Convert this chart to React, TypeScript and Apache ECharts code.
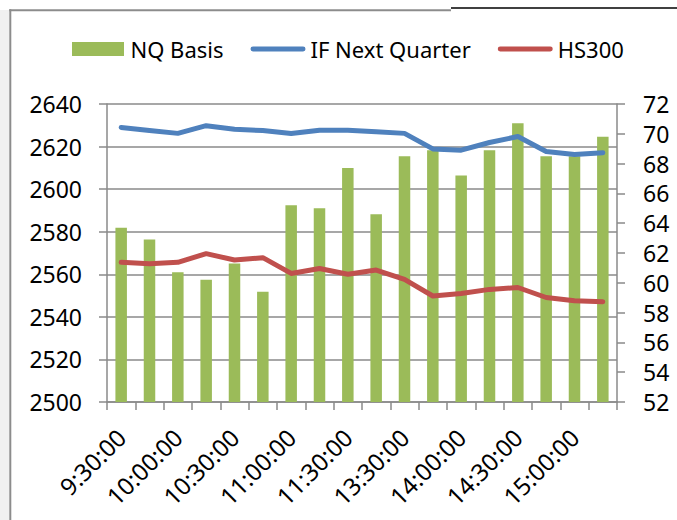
import React, { useEffect, useRef } from "react";
import * as echarts from "echarts";

const categories = [
  "9:30:00", "9:45:00", "10:00:00", "10:15:00", "10:30:00", "10:45:00",
  "11:00:00", "11:15:00", "11:30:00", "13:15:00", "13:30:00", "13:45:00",
  "14:00:00", "14:15:00", "14:30:00", "14:45:00", "15:00:00", "15:15:00",
];
const nqBasis = [63.7, 62.9, 60.7, 60.2, 61.3, 59.4, 65.2, 65.0, 67.7, 64.6, 68.5, 68.9, 67.2, 68.9, 70.7, 68.5, 68.5, 69.8];
const ifNextQuarter = [2629.0, 2627.6, 2626.2, 2629.8, 2628.1, 2627.5, 2626.1, 2627.7, 2627.7, 2627.0, 2626.2, 2618.9, 2618.3, 2621.9, 2624.7, 2617.7, 2616.3, 2617.1];
const hs300 = [2565.6, 2565.0, 2565.6, 2569.7, 2566.7, 2567.8, 2560.4, 2562.7, 2560.0, 2562.0, 2557.6, 2549.8, 2551.0, 2552.9, 2553.8, 2549.1, 2547.6, 2547.1];
const leftAxis = { min: 2500, max: 2640, interval: 20 };
const rightAxis = { min: 52, max: 72, interval: 2 };
const seriesNames = ["NQ Basis", "IF Next Quarter", "HS300"];

const FONT = "'Noto Sans', 'Open Sans', sans-serif";
const GREEN = "#9BBB59";
const BLUE = "#4F81BD";
const RED = "#C0504D";
const GRID_GRAY = "#8a8a8a";

export default function App() {
  const ref = useRef<HTMLDivElement>(null);
  useEffect(() => {
    if (!ref.current) return;
    const chart = echarts.init(ref.current, null, { renderer: "svg" });
    chart.setOption({
      animation: false,
      backgroundColor: "#ffffff",
      textStyle: { fontFamily: FONT },
      graphic: [
        { type: "rect", shape: { x: 0, y: 10, width: 9.5, height: 510 }, style: { fill: "#f0f0f0" } },
        { type: "line", shape: { x1: 10.3, y1: 9.3, x2: 10.3, y2: 520 }, style: { stroke: "#8c8c8c", lineWidth: 2 } },
        { type: "line", shape: { x1: 9.3, y1: 10.3, x2: 451, y2: 10.3 }, style: { stroke: "#8c8c8c", lineWidth: 2 } },
        { type: "line", shape: { x1: 451, y1: 8, x2: 677, y2: 8 }, style: { stroke: "#000000", lineWidth: 1.5 } },
      ],
      legend: {
        left: 67,
        top: 33,
        itemWidth: 55,
        itemHeight: 14,
        itemGap: 27,
        textStyle: { fontFamily: FONT, fontSize: 22, color: "#000" },
        data: [
          { name: seriesNames[0], icon: "path://M0,0h52v14h-52Z" },
          { name: seriesNames[1], icon: "path://M2.5,0h51a2.5,2.5 0 0 1 0,5h-51a2.5,2.5 0 0 1 0,-5Z" },
          { name: seriesNames[2], icon: "path://M2.5,0h51a2.5,2.5 0 0 1 0,5h-51a2.5,2.5 0 0 1 0,-5Z" },
        ],
      },
      grid: { left: 107, right: 60, top: 104, bottom: 118 },
      xAxis: {
        type: "category",
        data: categories,
        boundaryGap: true,
        axisLine: { lineStyle: { color: GRID_GRAY, width: 1.5 } },
        axisTick: { show: true, interval: 0, length: 8, lineStyle: { color: GRID_GRAY, width: 1.5 } },
        axisLabel: {
          interval: 1,
          rotate: 45,
          margin: 31,
          color: "#000",
          fontSize: 24,
          fontFamily: FONT,
        },
      },
      yAxis: [
        {
          type: "value",
          min: leftAxis.min,
          max: leftAxis.max,
          interval: leftAxis.interval,
          position: "left",
          axisLine: { show: true, lineStyle: { color: GRID_GRAY, width: 1.5 } },
          axisTick: { show: true, length: 8, lineStyle: { color: GRID_GRAY, width: 1.5 } },
          splitLine: { show: true, lineStyle: { color: GRID_GRAY, width: 1.5 } },
          axisLabel: { margin: 25, color: "#000", fontSize: 23, fontFamily: FONT, formatter: (v: number) => String(v) },
        },
        {
          type: "value",
          min: rightAxis.min,
          max: rightAxis.max,
          interval: rightAxis.interval,
          position: "right",
          axisLine: { show: true, lineStyle: { color: GRID_GRAY, width: 1.5 } },
          axisTick: { show: true, length: 8, lineStyle: { color: GRID_GRAY, width: 1.5 } },
          splitLine: { show: false },
          axisLabel: { margin: 26, color: "#000", fontSize: 23, fontFamily: FONT, formatter: (v: number) => String(v) },
        },
      ],
      series: [
        {
          name: seriesNames[0],
          type: "bar",
          yAxisIndex: 1,
          data: nqBasis,
          barWidth: 11.5,
          itemStyle: { color: GREEN },
        },
        {
          name: seriesNames[1],
          type: "line",
          yAxisIndex: 0,
          data: ifNextQuarter,
          symbol: "none",
          lineStyle: { color: BLUE, width: 5, cap: "round", join: "round" },
          itemStyle: { color: BLUE },
        },
        {
          name: seriesNames[2],
          type: "line",
          yAxisIndex: 0,
          data: hs300,
          symbol: "none",
          lineStyle: { color: RED, width: 5, cap: "round", join: "round" },
          itemStyle: { color: RED },
        },
      ],
    });
    return () => chart.dispose();
  }, []);
  return (
    <div
      ref={ref}
      style={{ position: "fixed", left: 0, top: 0, width: 677, height: 520 }}
    />
  );
}
